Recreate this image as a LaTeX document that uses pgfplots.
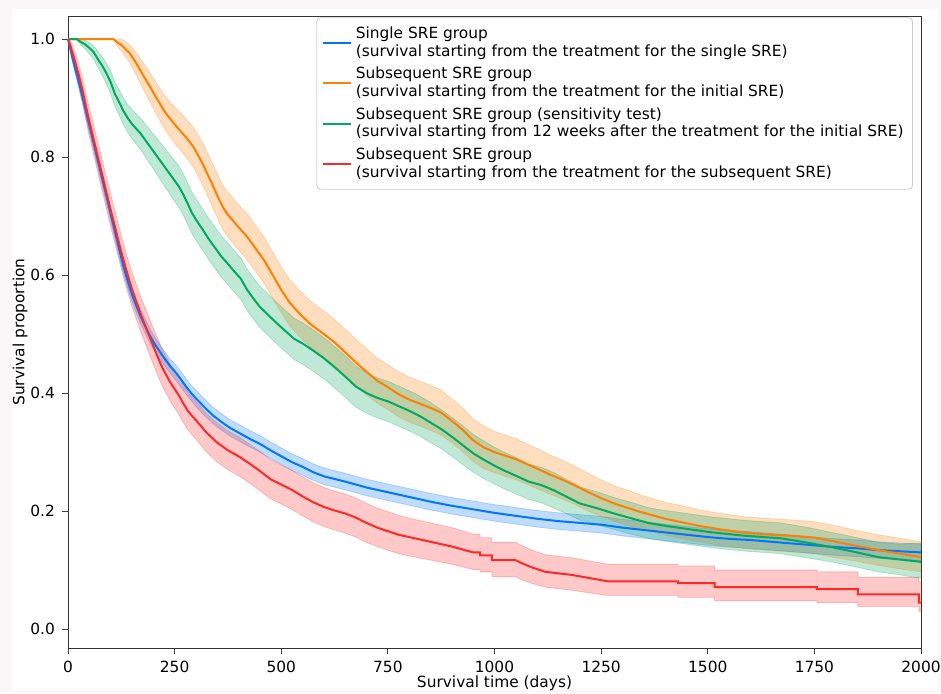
\documentclass[border=0pt]{standalone}
\usepackage{fontspec}
\setmainfont{DejaVu Sans}
\usepackage{pgfplots}
\usepackage{pgfplotstable}
\usepgfplotslibrary{fillbetween}
\pgfplotsset{compat=1.18}

\definecolor{cblue}{RGB}{0,118,250}
\definecolor{corange}{RGB}{255,127,0}
\definecolor{cgreen}{RGB}{0,170,95}
\definecolor{cred}{RGB}{255,40,40}
\definecolor{pagebg}{RGB}{249,247,247}

% single SRE group
\pgfplotstableread{
t s lo hi
0 1.000 1.000 1.000
5 0.985 0.980 0.990
10 0.970 0.963 0.977
15 0.955 0.947 0.963
20 0.942 0.933 0.951
25 0.928 0.918 0.938
30 0.914 0.903 0.925
35 0.899 0.888 0.910
40 0.884 0.872 0.896
45 0.869 0.857 0.881
50 0.854 0.842 0.866
55 0.839 0.827 0.851
60 0.824 0.812 0.836
65 0.809 0.797 0.821
70 0.794 0.782 0.806
75 0.779 0.767 0.791
80 0.764 0.752 0.776
85 0.749 0.737 0.761
90 0.734 0.722 0.746
95 0.719 0.707 0.731
100 0.704 0.692 0.716
105 0.689 0.677 0.701
110 0.674 0.662 0.686
115 0.659 0.647 0.671
120 0.644 0.632 0.656
125 0.629 0.617 0.641
130 0.615 0.603 0.627
135 0.602 0.590 0.614
140 0.590 0.578 0.602
145 0.578 0.566 0.590
150 0.567 0.555 0.579
160 0.548 0.536 0.560
170 0.530 0.518 0.542
180 0.515 0.503 0.527
190 0.500 0.488 0.512
200 0.487 0.475 0.499
210 0.476 0.464 0.488
220 0.465 0.453 0.477
230 0.455 0.443 0.467
240 0.445 0.433 0.457
250 0.437 0.424 0.450
260 0.428 0.415 0.441
270 0.418 0.405 0.431
280 0.408 0.395 0.421
290 0.399 0.386 0.412
300 0.391 0.377 0.405
320 0.376 0.362 0.390
340 0.362 0.348 0.376
360 0.351 0.337 0.365
380 0.341 0.327 0.355
400 0.333 0.319 0.347
425 0.323 0.309 0.337
450 0.314 0.300 0.328
475 0.303 0.289 0.317
500 0.293 0.279 0.307
525 0.283 0.269 0.297
550 0.275 0.261 0.289
575 0.266 0.252 0.280
600 0.259 0.245 0.273
650 0.250 0.236 0.264
700 0.240 0.226 0.254
750 0.232 0.218 0.246
800 0.224 0.210 0.238
850 0.216 0.202 0.230
900 0.209 0.195 0.223
950 0.203 0.189 0.217
1000 0.197 0.183 0.211
1050 0.192 0.178 0.206
1100 0.187 0.173 0.201
1150 0.183 0.169 0.197
1200 0.180 0.166 0.194
1250 0.177 0.163 0.191
1300 0.172 0.158 0.186
1350 0.168 0.154 0.182
1400 0.164 0.150 0.178
1450 0.160 0.146 0.174
1500 0.156 0.142 0.170
1550 0.153 0.139 0.167
1600 0.151 0.137 0.165
1650 0.148 0.134 0.162
1700 0.145 0.131 0.159
1750 0.142 0.128 0.156
1800 0.139 0.125 0.153
1850 0.137 0.123 0.151
1900 0.134 0.120 0.148
1950 0.132 0.118 0.146
2000 0.130 0.116 0.144
}\single

% subsequent SRE group, from initial SRE
\pgfplotstableread{
t s lo hi
0 1.000 1.000 1.000
106 1.000 1.000 1.000
115 0.995 0.988 1.000
125 0.990 0.980 1.000
135 0.983 0.970 0.995
145 0.976 0.960 0.990
155 0.965 0.946 0.982
165 0.953 0.932 0.972
175 0.940 0.917 0.961
185 0.928 0.903 0.951
195 0.916 0.890 0.940
205 0.903 0.876 0.928
216 0.890 0.862 0.916
225 0.879 0.850 0.906
235 0.869 0.839 0.897
245 0.860 0.829 0.889
255 0.851 0.819 0.881
265 0.843 0.811 0.874
275 0.835 0.802 0.866
285 0.826 0.792 0.858
295 0.816 0.782 0.849
305 0.803 0.768 0.837
315 0.790 0.754 0.825
325 0.774 0.738 0.810
335 0.759 0.722 0.795
345 0.743 0.706 0.780
355 0.727 0.689 0.764
365 0.713 0.675 0.750
375 0.702 0.664 0.740
385 0.694 0.656 0.732
395 0.685 0.646 0.723
405 0.677 0.638 0.715
420 0.665 0.626 0.704
440 0.645 0.606 0.684
460 0.625 0.586 0.664
480 0.600 0.561 0.639
500 0.575 0.536 0.614
520 0.553 0.514 0.592
545 0.533 0.494 0.572
570 0.516 0.477 0.555
600 0.500 0.461 0.539
625 0.486 0.447 0.525
650 0.469 0.430 0.508
675 0.452 0.413 0.491
700 0.436 0.397 0.475
725 0.421 0.383 0.459
750 0.410 0.372 0.448
775 0.398 0.360 0.436
800 0.389 0.351 0.427
825 0.382 0.344 0.420
850 0.375 0.337 0.413
875 0.367 0.329 0.405
900 0.353 0.316 0.390
925 0.338 0.301 0.375
950 0.320 0.284 0.356
975 0.308 0.272 0.344
1000 0.300 0.265 0.335
1025 0.294 0.259 0.329
1050 0.288 0.253 0.323
1075 0.280 0.246 0.314
1100 0.272 0.238 0.306
1130 0.262 0.229 0.295
1160 0.253 0.220 0.286
1190 0.243 0.211 0.275
1220 0.232 0.200 0.264
1250 0.222 0.191 0.253
1280 0.213 0.183 0.243
1310 0.206 0.176 0.236
1340 0.199 0.170 0.228
1370 0.193 0.165 0.221
1400 0.187 0.159 0.215
1440 0.181 0.153 0.209
1480 0.175 0.148 0.202
1530 0.169 0.142 0.196
1590 0.163 0.136 0.190
1650 0.160 0.133 0.187
1700 0.158 0.131 0.185
1750 0.155 0.128 0.182
1800 0.148 0.121 0.175
1850 0.141 0.115 0.167
1900 0.134 0.108 0.160
1950 0.128 0.102 0.154
2000 0.122 0.097 0.148
}\initial

% sensitivity test (from 12 weeks after initial SRE)
\pgfplotstableread{
t s lo hi
0 1.000 1.000 1.000
20 1.000 1.000 1.000
30 0.995 0.990 1.000
40 0.991 0.983 0.998
50 0.985 0.975 0.994
60 0.978 0.966 0.989
70 0.966 0.952 0.979
80 0.955 0.939 0.970
90 0.942 0.924 0.959
100 0.927 0.907 0.946
110 0.907 0.886 0.927
120 0.893 0.871 0.914
130 0.878 0.855 0.900
140 0.866 0.842 0.889
150 0.856 0.831 0.880
160 0.848 0.822 0.873
170 0.840 0.813 0.866
180 0.830 0.802 0.857
190 0.820 0.791 0.848
200 0.810 0.780 0.839
210 0.800 0.769 0.830
220 0.790 0.758 0.821
230 0.780 0.747 0.812
240 0.770 0.736 0.803
250 0.760 0.725 0.794
260 0.750 0.715 0.785
270 0.737 0.702 0.772
280 0.722 0.687 0.757
290 0.706 0.671 0.741
300 0.694 0.659 0.729
315 0.678 0.643 0.713
330 0.661 0.626 0.696
345 0.646 0.611 0.681
360 0.631 0.596 0.666
375 0.619 0.584 0.654
390 0.606 0.571 0.641
405 0.594 0.559 0.629
420 0.575 0.540 0.610
435 0.560 0.525 0.595
450 0.546 0.511 0.581
470 0.532 0.497 0.567
490 0.518 0.483 0.553
510 0.505 0.470 0.540
530 0.492 0.457 0.527
550 0.484 0.449 0.519
575 0.472 0.437 0.507
600 0.459 0.424 0.494
625 0.444 0.409 0.479
650 0.428 0.393 0.463
675 0.411 0.376 0.446
700 0.400 0.366 0.434
725 0.392 0.358 0.426
750 0.386 0.352 0.420
775 0.378 0.344 0.412
800 0.370 0.336 0.404
825 0.361 0.327 0.395
850 0.350 0.316 0.384
875 0.339 0.306 0.372
900 0.326 0.293 0.359
925 0.312 0.279 0.345
950 0.298 0.266 0.330
975 0.287 0.255 0.319
1000 0.277 0.246 0.308
1025 0.268 0.237 0.299
1050 0.260 0.229 0.291
1080 0.250 0.220 0.280
1110 0.244 0.214 0.274
1140 0.235 0.205 0.265
1170 0.224 0.195 0.253
1200 0.213 0.185 0.241
1240 0.205 0.177 0.233
1280 0.196 0.169 0.223
1320 0.188 0.161 0.215
1360 0.180 0.154 0.206
1400 0.175 0.149 0.201
1450 0.170 0.144 0.196
1510 0.164 0.138 0.190
1590 0.158 0.132 0.184
1670 0.154 0.128 0.180
1730 0.147 0.121 0.173
1790 0.139 0.114 0.164
1850 0.130 0.105 0.155
1900 0.122 0.097 0.147
1950 0.118 0.092 0.144
2000 0.114 0.086 0.146
}\sensitivity

% subsequent SRE group, from subsequent SRE
\pgfplotstableread{
t s lo hi
0 1.000 1.000 1.000
5 0.990 0.980 0.998
10 0.978 0.965 0.990
15 0.966 0.950 0.980
20 0.953 0.935 0.969
25 0.940 0.920 0.958
30 0.925 0.904 0.944
35 0.910 0.888 0.930
40 0.893 0.870 0.914
45 0.876 0.852 0.898
50 0.860 0.835 0.883
55 0.845 0.820 0.869
60 0.830 0.804 0.855
65 0.815 0.789 0.840
70 0.800 0.774 0.825
75 0.785 0.758 0.811
80 0.770 0.743 0.796
85 0.755 0.728 0.781
90 0.740 0.713 0.766
95 0.725 0.697 0.752
100 0.710 0.682 0.737
105 0.696 0.668 0.723
110 0.682 0.654 0.709
115 0.667 0.639 0.695
120 0.653 0.625 0.681
125 0.639 0.610 0.667
130 0.626 0.597 0.654
135 0.613 0.584 0.641
140 0.600 0.571 0.628
145 0.588 0.559 0.616
150 0.576 0.547 0.605
160 0.555 0.526 0.584
170 0.535 0.505 0.564
180 0.516 0.486 0.546
190 0.498 0.468 0.528
200 0.480 0.449 0.510
210 0.462 0.431 0.493
220 0.445 0.414 0.476
230 0.431 0.400 0.462
240 0.418 0.386 0.449
250 0.407 0.375 0.439
260 0.396 0.364 0.428
270 0.383 0.351 0.415
280 0.371 0.339 0.403
290 0.362 0.330 0.394
300 0.354 0.322 0.386
325 0.333 0.300 0.365
350 0.316 0.283 0.349
375 0.303 0.270 0.336
400 0.293 0.260 0.326
425 0.281 0.248 0.314
450 0.268 0.235 0.301
475 0.254 0.221 0.287
500 0.245 0.212 0.278
525 0.236 0.203 0.269
550 0.225 0.192 0.258
575 0.215 0.182 0.248
600 0.207 0.174 0.240
625 0.201 0.168 0.234
650 0.196 0.163 0.229
675 0.189 0.156 0.222
700 0.180 0.147 0.213
725 0.172 0.140 0.205
750 0.166 0.134 0.199
775 0.160 0.128 0.193
800 0.156 0.124 0.188
850 0.148 0.117 0.180
900 0.140 0.110 0.172
950 0.130 0.101 0.161
966 0.130 0.101 0.161
966 0.125 0.097 0.155
994 0.125 0.097 0.155
994 0.117 0.089 0.147
1049 0.117 0.089 0.147
1063 0.112 0.084 0.142
1090 0.104 0.077 0.133
1120 0.097 0.071 0.126
1180 0.092 0.066 0.121
1227 0.086 0.061 0.115
1266 0.081 0.057 0.110
1430 0.081 0.057 0.110
1430 0.078 0.054 0.107
1516 0.078 0.054 0.107
1516 0.071 0.048 0.100
1756 0.071 0.048 0.100
1756 0.068 0.045 0.097
1852 0.068 0.045 0.097
1852 0.059 0.038 0.088
1995 0.059 0.038 0.088
1995 0.045 0.030 0.080
2000 0.045 0.030 0.080
}\subsequent

\begin{document}
\begin{tikzpicture}
\begin{axis}[
    name=ax,
    at={(0pt,0pt)}, anchor=south west,
    scale only axis,
    width=426.5pt, height=316pt,
    clip=false,
    xmin=0, xmax=2000,
    ymin=-0.032, ymax=1.039,
    xtick={0,250,...,2000},
    ytick={0,0.2,...,1.0},
    xtick pos=bottom, ytick pos=left,
    tick align=outside,
    major tick length=3pt,
    tick style={black!75, line width=0.5pt},
    axis line style={black!80, line width=0.5pt},
    font=\fontsize{7.7}{8.85}\selectfont,
    /pgf/number format/assume math mode=true,
    /pgf/number format/1000 sep={},
    yticklabel style={/pgf/number format/.cd, fixed, fixed zerofill, precision=1},
    xlabel={Survival time (days)},
    ylabel={Survival proportion},
    xlabel style={at={(axis description cs:0.5,-0.055)}, anchor=center},
    ylabel style={at={(axis description cs:-0.056,0.5)}, anchor=center},
    legend cell align=left,
    legend style={at={(0.9906,0.998)}, anchor=north east,
        cells={align=left}, draw=black!20, rounded corners=2pt,
        row sep=0pt, inner sep=2.5pt,
        font=\fontsize{7.7}{8.85}\selectfont},
    legend image code/.code={\draw[#1] (0pt,0pt) -- (14pt,0pt);},
]
% page backdrop, below everything else
\begin{pgfonlayer}{axis background}
\fill[pagebg] ([shift={(-34pt,-22.5pt)}]rel axis cs:0,0) rectangle ([shift={(10pt,8pt)}]rel axis cs:1,1);
\fill[white] ([shift={(-28pt,-21pt)}]rel axis cs:0,0) rectangle ([shift={(8.5pt,3.5pt)}]rel axis cs:1,1);
\end{pgfonlayer}

% confidence bands
\addplot[name path=bh, draw=cblue, draw opacity=0.25, line width=0.4pt, forget plot] table[x=t, y=hi] {\single};
\addplot[name path=bl, draw=cblue, draw opacity=0.25, line width=0.4pt, forget plot] table[x=t, y=lo] {\single};
\addplot[fill=cblue, fill opacity=0.25, forget plot] fill between[of=bh and bl];

\addplot[name path=oh, draw=corange, draw opacity=0.25, line width=0.4pt, forget plot] table[x=t, y=hi] {\initial};
\addplot[name path=ol, draw=corange, draw opacity=0.25, line width=0.4pt, forget plot] table[x=t, y=lo] {\initial};
\addplot[fill=corange, fill opacity=0.25, forget plot] fill between[of=oh and ol];

\addplot[name path=gh, draw=cgreen, draw opacity=0.25, line width=0.4pt, forget plot] table[x=t, y=hi] {\sensitivity};
\addplot[name path=gl, draw=cgreen, draw opacity=0.25, line width=0.4pt, forget plot] table[x=t, y=lo] {\sensitivity};
\addplot[fill=cgreen, fill opacity=0.25, forget plot] fill between[of=gh and gl];

\addplot[name path=rh, draw=cred, draw opacity=0.25, line width=0.4pt, forget plot] table[x=t, y=hi] {\subsequent};
\addplot[name path=rl, draw=cred, draw opacity=0.25, line width=0.4pt, forget plot] table[x=t, y=lo] {\subsequent};
\addplot[fill=cred, fill opacity=0.25, forget plot] fill between[of=rh and rl];

% survival curves
\addplot[cblue, line width=1pt] table[x=t, y=s] {\single};
\addlegendentry{Single SRE group\\(survival starting from the treatment for the single SRE)}
\addplot[corange, line width=1pt] table[x=t, y=s] {\initial};
\addlegendentry{Subsequent SRE group\\(survival starting from the treatment for the initial SRE)}
\addplot[cgreen, line width=1pt] table[x=t, y=s] {\sensitivity};
\addlegendentry{Subsequent SRE group (sensitivity test)\\(survival starting from 12 weeks after the treatment for the initial SRE)}
\addplot[cred, line width=1pt] table[x=t, y=s] {\subsequent};
\addlegendentry{Subsequent SRE group\\(survival starting from the treatment for the subsequent SRE)}
\end{axis}
\pgfresetboundingbox
\path (-34pt,-22.5pt) rectangle (436.5pt,324pt);
\end{tikzpicture}
\end{document}
